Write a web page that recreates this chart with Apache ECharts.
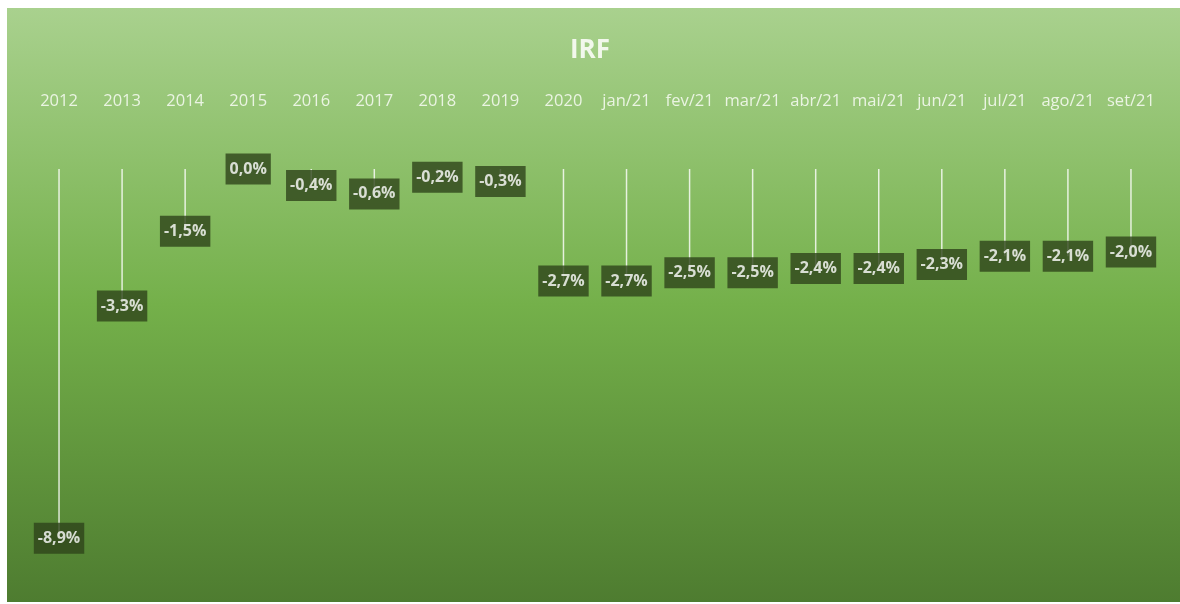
<!DOCTYPE html>
<html>
<head>
<meta charset="utf-8">
<script src="https://cdn.jsdelivr.net/npm/echarts@6/dist/echarts.min.js"></script>
<style>
  html, body { margin: 0; padding: 0; background: #fff; }
  #irf { width: 1180px; height: 604px; }
</style>
</head>
<body>
<div id="irf"></div>
<script>
// IRF - variação por período
var periodos = ['2012', '2013', '2014', '2015', '2016', '2017', '2018', '2019', '2020',
    'jan/21', 'fev/21', 'mar/21', 'abr/21', 'mai/21', 'jun/21', 'jul/21', 'ago/21', 'set/21'];
var irf = [-8.9, -3.3, -1.5, 0.0, -0.4, -0.6, -0.2, -0.3, -2.7,
    -2.7, -2.5, -2.5, -2.4, -2.4, -2.3, -2.1, -2.1, -2.0];

var fonte = "'Open Sans', sans-serif";

var chart = echarts.init(document.getElementById('irf'));
var option = {
    backgroundColor: '#ffffff',
    animation: false,
    graphic: [{
        type: 'rect',
        z: -10,
        shape: { x: 7, y: 8, width: 1173, height: 594 },
        style: {
            fill: new echarts.graphic.LinearGradient(0, 0, 0, 1, [
                { offset: 0, color: '#a9d18e' },
                { offset: 0.5, color: '#74b04a' },
                { offset: 1, color: '#4e7c30' }
            ])
        }
    }],
    title: {
        text: 'IRF',
        left: 'center',
        top: 33,
        textStyle: {
            color: '#f2f8ec',
            fontSize: 26,
            fontWeight: 'bold',
            fontFamily: fonte
        }
    },
    grid: {
        top: 169,
        left: 27.5,
        right: 17.5,
        height: 415
    },
    xAxis: {
        type: 'category',
        position: 'top',
        data: periodos,
        axisLine: { show: false },
        axisTick: { show: false },
        axisLabel: {
            margin: 59,
            interval: 0,
            color: '#eaf4e2',
            fontSize: 16.5,
            fontFamily: fonte
        }
    },
    yAxis: {
        type: 'value',
        min: -10,
        max: 0,
        show: false,
        splitLine: { show: false }
    },
    series: [{
        name: 'linha',
        type: 'bar',
        data: irf,
        barWidth: 1.5,
        itemStyle: { color: 'rgba(255,255,255,0.8)' },
        silent: true
    }, {
        name: 'IRF',
        type: 'scatter',
        data: irf,
        symbolSize: 2,
        itemStyle: { color: 'rgba(0,0,0,0)' },
        z: 5,
        label: {
            show: true,
            position: 'inside',
            formatter: function (p) {
                return p.value.toFixed(1).replace('.', ',') + '%';
            },
            color: '#ffffff',
            fontSize: 16,
            fontWeight: 'bold',
            fontFamily: fonte,
            backgroundColor: '#2e431a',
            padding: [8, 4, 7, 4]
        },
        labelLayout: { hideOverlap: false }
    }]
};
chart.setOption(option);
</script>
</body>
</html>
